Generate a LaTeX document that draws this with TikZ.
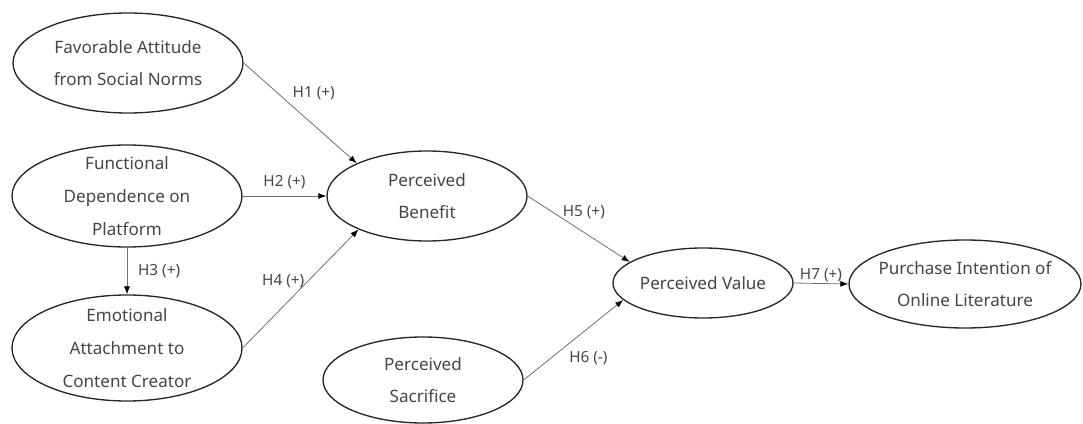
\documentclass[tikz,border=0pt]{standalone}
\usepackage{fontspec}
\setmainfont{Noto Sans}
\usetikzlibrary{arrows.meta,shapes,positioning}
\definecolor{txtgray}{HTML}{454545}
\definecolor{arrgray}{HTML}{707070}
\begin{document}
\begin{tikzpicture}[x=0.75pt,y=-0.75pt]
    \tikzstyle{var}=[ellipse,draw=black!85,line width=1pt,inner sep=0]
    \tikzstyle{txt}=[align=center,text=txtgray,font=\fontsize{12.8}{24.5}\selectfont]
    \tikzstyle{path}=[draw=arrgray,line width=0.6pt,-{Latex[black,length=6pt,width=4.5pt]}]
    \tikzstyle{hyp}=[text=txtgray,font=\fontsize{11.5}{13}\selectfont,inner sep=2pt]
    \useasboundingbox (0,0) rectangle (1083,424);
    \node[var,minimum width=172.5pt,minimum height=75pt,
      label={[txt]center:Favorable Attitude\\from Social Norms}] (FA) at (128,63) {};
    \node[var,minimum width=172.5pt,minimum height=76.5pt,
      label={[txt]center:Functional\\Dependence on\\Platform}] (FD) at (127,196) {};
    \node[var,minimum width=172.5pt,minimum height=79.5pt,
      label={[txt]center:Emotional\\Attachment to\\Content Creator}] (EA) at (127,348) {};
    \node[var,minimum width=150pt,minimum height=67.5pt,
      label={[txt]center:Perceived\\Benefit}] (PB) at (427,196) {};
    \node[var,minimum width=150pt,minimum height=64.5pt,
      label={[txt]center:Perceived\\Sacrifice}] (PS) at (423,380) {};
    \node[var,minimum width=135pt,minimum height=52.5pt,
      label={[txt]center:Perceived Value}] (PV) at (703,283) {};
    \node[var,minimum width=174pt,minimum height=66pt,
      label={[txt]center:Purchase Intention of\\Online Literature}] (PI) at (965,284) {};
    \draw[path] (FA.east) -- node[hyp,pos=.3,right=9pt] {H1 (+)} (PB.155);
    \draw[path] (FD.east) -- node[hyp,midway,above=3pt] {H2 (+)} (PB.west);
    \draw[path] (FD.south) -- node[hyp,midway,right=6pt] {H3 (+)} (EA.north);
    \draw[path] (EA.east) -- node[hyp,pos=.35,above=12pt] {H4 (+)} (PB.206);
    \draw[path] (PB.east) -- node[hyp,pos=.55,above=8pt] {H5 (+)} (PV.164);
    \draw[path] (PS.east) -- node[hyp,pos=.65,below=15pt] {H6 (-)} (PV.192);
    \draw[path] (PV.east) -- node[hyp,midway,above=-1pt] {H7 (+)} (PI.west);
\end{tikzpicture}
\end{document}
